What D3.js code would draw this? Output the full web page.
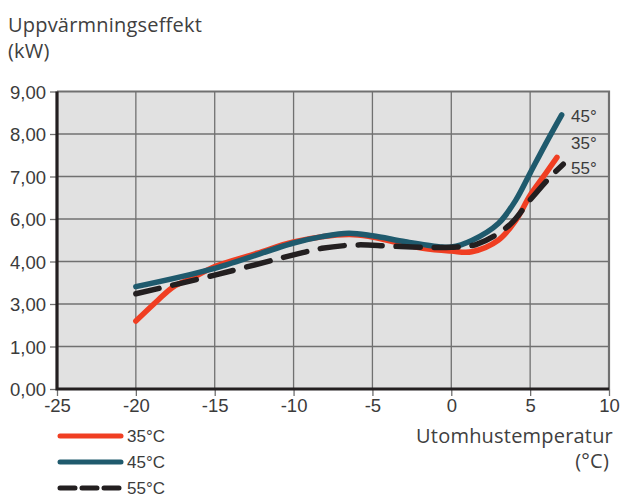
<!DOCTYPE html>
<html>
<head>
<meta charset="utf-8">
<script src="https://cdn.jsdelivr.net/npm/d3@7"></script>
<style>
  body { margin: 0; background: #fff; }
  svg { display: block; }
</style>
</head>
<body>
<div id="chart"></div>
<script>
// tick labels on the value axis (the source chart skips 2 and 5)
var yTicks = [0, 1, 3, 4, 6, 7, 8, 9];
var xTicks = [-25, -20, -15, -10, -5, 0, 5, 10];

// outdoor temperature (°C) -> heating output (kW)
var temp35 = [-20, -18.6, -17.6, -16.5, -15, -12.3, -10, -6.5, -5, -1.8, 0, 1.3, 3, 4.1, 5, 6, 6.7];
var kw35   = [2.2, 3.09, 3.41, 3.6, 3.88, 4.39, 4.92, 5.27, 5.15, 4.62, 4.49, 4.46, 5.01, 5.95, 6.56, 7.08, 7.45];

var temp45 = [-20, -15, -10, -8.2, -6.5, -5, -2.9, -0.8, 0, 1.3, 3, 4.1, 5, 6, 7];
var kw45   = [3.41, 3.84, 4.87, 5.17, 5.33, 5.21, 4.93, 4.7, 4.68, 4.99, 5.8, 6.45, 7.08, 7.78, 8.45];

var temp55 = [-20, -15, -10, -8.2, -6, -4, -1.8, 0, 1.6, 3.7, 5, 6.2, 7.1];
var kw55   = [3.24, 3.68, 4.31, 4.62, 4.78, 4.73, 4.67, 4.67, 4.81, 5.72, 6.45, 6.96, 7.29];

var series = [
  { name: "35°C", t: temp35, v: kw35, color: "#f03e22", dash: null },
  { name: "45°C", t: temp45, v: kw45, color: "#1f5a6d", dash: null },
  { name: "55°C", t: temp55, v: kw55, color: "#231f20", dash: "24,14" }
];

var W = 621, H = 498;
var plotL = 57, plotR = 609, plotT = 91.5, plotB = 389;

var svg = d3.select("#chart").append("svg")
  .attr("width", W)
  .attr("height", H);

var x = d3.scaleLinear().domain([-25, 10]).range([plotL, plotR]);

// gridlines are evenly spaced even though the labels are not
var step = (plotB - plotT) / (yTicks.length - 1);
var y = d3.scaleLinear()
  .domain(yTicks)
  .range(yTicks.map(function(d, i) { return plotB - i * step; }));

var txtColor = "#3b3b3b";
var gridColor = "#707070";
var tickFont = "Liberation Sans, Arial, sans-serif";
var titleFont = "Open Sans, Noto Sans, sans-serif";

// plot background
svg.append("rect")
  .attr("x", plotL).attr("y", plotT)
  .attr("width", plotR - plotL).attr("height", plotB - plotT)
  .attr("fill", "#e1e1e1");

// grid
svg.append("g").selectAll("line").data(xTicks.slice(1, -1)).enter()
  .append("line")
  .attr("x1", function(d) { return x(d); }).attr("x2", function(d) { return x(d); })
  .attr("y1", plotT).attr("y2", plotB)
  .attr("stroke", gridColor).attr("stroke-width", 1.3);

svg.append("g").selectAll("line").data(yTicks.slice(1, -1)).enter()
  .append("line")
  .attr("x1", plotL).attr("x2", plotR)
  .attr("y1", function(d) { return y(d); }).attr("y2", function(d) { return y(d); })
  .attr("stroke", gridColor).attr("stroke-width", 1.3);

// top and right frame
svg.append("path")
  .attr("d", "M" + plotL + "," + plotT + "H" + plotR + "V" + plotB)
  .attr("fill", "none").attr("stroke", gridColor).attr("stroke-width", 2.2);

// axes
var yAxis = d3.axisLeft(y).tickValues(yTicks).tickSize(7).tickPadding(4)
  .tickFormat(function(d) { return d3.format(".2f")(d).replace(".", ","); });
var xAxis = d3.axisBottom(x).tickValues(xTicks).tickSize(7).tickPadding(3)
  .tickFormat(function(d) { return d; });

var gy = svg.append("g").attr("transform", "translate(" + plotL + ",0)").call(yAxis);
var gx = svg.append("g").attr("transform", "translate(0," + plotB + ")").call(xAxis);

[gy, gx].forEach(function(g) {
  g.select(".domain").remove();
  g.selectAll(".tick line").attr("stroke", gridColor).attr("stroke-width", 1.3);
  g.selectAll(".tick text")
    .attr("fill", txtColor)
    .style("font-family", tickFont)
    .style("font-size", "18.5px");
});
gy.selectAll(".tick text").attr("dy", "0.36em");

// thick left and bottom axis lines
svg.append("path")
  .attr("d", "M" + plotL + "," + plotT + "V" + plotB + "H" + plotR)
  .attr("fill", "none").attr("stroke", "#231f20").attr("stroke-width", 3.2);

// curves
var line = d3.line()
  .x(function(d) { return x(d[0]); })
  .y(function(d) { return y(d[1]); })
  .curve(d3.curveCatmullRom.alpha(0.5));

series.forEach(function(s) {
  var pts = s.t.map(function(t, i) { return [t, s.v[i]]; });
  svg.append("path")
    .datum(pts)
    .attr("d", line)
    .attr("fill", "none")
    .attr("stroke", s.color)
    .attr("stroke-width", 5.5)
    .attr("stroke-linecap", "round")
    .attr("stroke-dasharray", s.dash);
});

// labels at the line ends
var endLabels = [
  { text: "45°", y: 122 },
  { text: "35°", y: 149 },
  { text: "55°", y: 174 }
];
svg.append("g").selectAll("text").data(endLabels).enter()
  .append("text")
  .attr("x", 571).attr("y", function(d) { return d.y; })
  .attr("fill", txtColor)
  .style("font-family", tickFont)
  .style("font-size", "17px")
  .text(function(d) { return d.text; });

// axis titles
var titles = [
  { text: "Uppvärmningseffekt", x: 8, y: 32, anchor: "start" },
  { text: "(kW)", x: 8, y: 58, anchor: "start" },
  { text: "Utomhustemperatur", x: 613, y: 443, anchor: "end" },
  { text: "(°C)", x: 609, y: 468, anchor: "end" }
];
svg.append("g").selectAll("text").data(titles).enter()
  .append("text")
  .attr("x", function(d) { return d.x; })
  .attr("y", function(d) { return d.y; })
  .attr("text-anchor", function(d) { return d.anchor; })
  .attr("fill", "#404040")
  .style("font-family", titleFont)
  .style("font-size", "20px")
  .style("letter-spacing", "0.2px")
  .text(function(d) { return d.text; });

// legend
var legend = svg.append("g").selectAll("g").data(series).enter()
  .append("g")
  .attr("transform", function(d, i) { return "translate(0," + (436 + i * 26) + ")"; });

legend.append("line")
  .attr("x1", 60).attr("x2", 121)
  .attr("stroke", function(d) { return d.color; })
  .attr("stroke-width", 5)
  .attr("stroke-linecap", "round")
  .attr("stroke-dasharray", function(d) { return d.dash ? "15,7" : null; });

legend.append("text")
  .attr("x", 127).attr("y", 6)
  .attr("fill", txtColor)
  .style("font-family", tickFont)
  .style("font-size", "17px")
  .text(function(d) { return d.name; });
</script>
</body>
</html>
